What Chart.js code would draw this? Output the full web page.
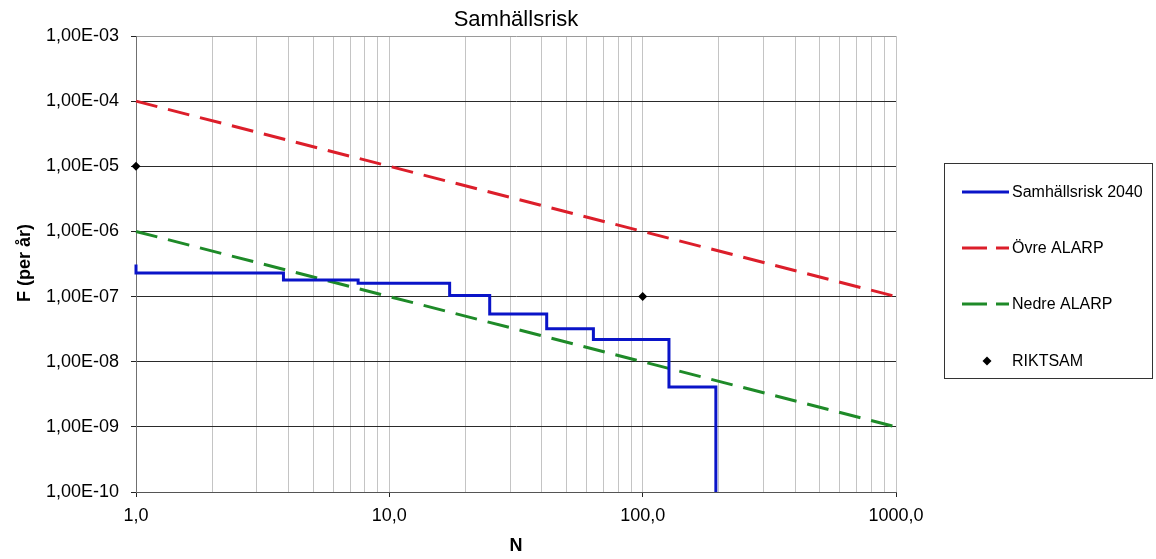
<!DOCTYPE html>
<html>
<head>
<meta charset="utf-8">
<script src="https://cdn.jsdelivr.net/npm/chart.js@4/dist/chart.umd.min.js"></script>
<style>
  html, body { margin: 0; padding: 0; background: #ffffff; }
  #wrap { width: 1156px; height: 559px; position: relative; }
</style>
</head>
<body>
<div id="wrap"><canvas id="c" width="1156" height="559"></canvas></div>
<script>
// ---- Data ----
const chartTitle = 'Samhällsrisk';
const xAxisTitle = 'N';
const yAxisTitle = 'F (per år)';

const riskLabel = 'Samhällsrisk 2040';
const riskN = [1, 1, 3.82, 7.53, 17.3, 24.9, 41.8, 63.9, 127, 194.5];
const riskF = [3.1e-7, 2.3e-7, 1.8e-7, 1.6e-7, 1.04e-7, 5.4e-8, 3.2e-8, 2.2e-8, 4.1e-9, 1e-10];

const upperLabel = 'Övre ALARP';
const upperN = [1, 1000];
const upperF = [1e-4, 1e-7];

const lowerLabel = 'Nedre ALARP';
const lowerN = [1, 1000];
const lowerF = [1e-6, 1e-9];

const riktLabel = 'RIKTSAM';
const riktN = [1, 100];
const riktF = [1e-5, 1e-7];

const xTicks = [1, 10, 100, 1000];
const xTickLabels = ['1,0', '10,0', '100,0', '1000,0'];
const yTicks = [1e-10, 1e-9, 1e-8, 1e-7, 1e-6, 1e-5, 1e-4, 1e-3];
const yTickLabels = ['1,00E-10', '1,00E-09', '1,00E-08', '1,00E-07', '1,00E-06', '1,00E-05', '1,00E-04', '1,00E-03'];

// ---- Helpers ----
const pts = (xs, ys) => xs.map((x, i) => ({ x: x, y: ys[i] }));
const FONT = '"Liberation Sans", Arial, sans-serif';
const isMajorX = v => xTicks.some(t => Math.abs(t - v) / t < 1e-9);

const BLUE = '#0a14c8';
const RED = '#dc1e2a';
const GREEN = '#1e8a28';
const DASH = [22, 11];

// minor grid positions for log x axis (1..9 per decade)
function xGridValues() {
  const out = [];
  for (let d = 1; d < 1000; d *= 10) {
    for (let m = 1; m < 10; m++) out.push(m * d);
  }
  out.push(1000);
  return out;
}

const overlayPlugin = {
  id: 'overlay',
  afterDraw(chart) {
    const ctx = chart.ctx;
    const ca = chart.chartArea;
    ctx.save();
    // Title
    ctx.fillStyle = '#000';
    ctx.font = '22px ' + FONT;
    ctx.textAlign = 'center';
    ctx.textBaseline = 'middle';
    ctx.fillText(chartTitle, (ca.left + ca.right) / 2, 20);
    // X axis title
    ctx.font = 'bold 18px ' + FONT;
    ctx.fillText(xAxisTitle, (ca.left + ca.right) / 2, 546);
    // Y axis title
    ctx.save();
    ctx.translate(25, 263);
    ctx.rotate(-Math.PI / 2);
    ctx.fillText(yAxisTitle, 0, 0);
    ctx.restore();

    // Legend box
    const bx = 944.5, by = 163.5, bw = 208, bh = 215;
    ctx.strokeStyle = '#333';
    ctx.lineWidth = 1;
    ctx.strokeRect(bx, by, bw, bh);

    const entries = [
      { label: riskLabel, color: BLUE, dash: [], y: 192 },
      { label: upperLabel, color: RED, dash: [25, 9], y: 248 },
      { label: lowerLabel, color: GREEN, dash: [25, 9], y: 304 },
      { label: riktLabel, point: true, y: 361 }
    ];
    ctx.font = '16px ' + FONT;
    ctx.textAlign = 'left';
    ctx.textBaseline = 'middle';
    entries.forEach(e => {
      if (e.point) {
        ctx.fillStyle = '#000';
        ctx.beginPath();
        const cx = 987, cy = e.y, r = 4.5;
        ctx.moveTo(cx, cy - r);
        ctx.lineTo(cx + r, cy);
        ctx.lineTo(cx, cy + r);
        ctx.lineTo(cx - r, cy);
        ctx.closePath();
        ctx.fill();
      } else {
        ctx.strokeStyle = e.color;
        ctx.lineWidth = 3;
        ctx.setLineDash(e.dash);
        ctx.beginPath();
        ctx.moveTo(962, e.y);
        ctx.lineTo(1009, e.y);
        ctx.stroke();
        ctx.setLineDash([]);
      }
      ctx.fillStyle = '#000';
      ctx.fillText(e.label, 1012, e.y + 1);
    });
    ctx.restore();
  }
};

new Chart(document.getElementById('c'), {
  type: 'scatter',
  data: {
    datasets: [
      {
        label: riskLabel,
        data: pts(riskN, riskF),
        showLine: true,
        stepped: 'before',
        borderColor: BLUE,
        borderWidth: 3,
        pointRadius: 0,
        fill: false
      },
      {
        label: upperLabel,
        data: pts(upperN, upperF),
        showLine: true,
        borderColor: RED,
        borderWidth: 3,
        borderDash: DASH,
        pointRadius: 0,
        fill: false
      },
      {
        label: lowerLabel,
        data: pts(lowerN, lowerF),
        showLine: true,
        borderColor: GREEN,
        borderWidth: 3,
        borderDash: DASH,
        pointRadius: 0,
        fill: false
      },
      {
        label: riktLabel,
        data: pts(riktN, riktF),
        showLine: false,
        pointStyle: 'rectRot',
        pointRadius: 4.5,
        backgroundColor: '#000',
        borderColor: '#000',
        borderWidth: 0
      }
    ]
  },
  options: {
    responsive: false,
    animation: false,
    devicePixelRatio: 1,
    clip: false,
    layout: { padding: { top: 36, right: 260, left: 0, bottom: 0 } },
    plugins: {
      legend: { display: false },
      title: { display: false },
      tooltip: { enabled: false }
    },
    scales: {
      x: {
        type: 'logarithmic',
        min: 1,
        max: 1000,
        afterFit(scale) { scale.height = 67; },
        afterBuildTicks(axis) {
          axis.ticks = xGridValues().map(v => ({ value: v, major: isMajorX(v) }));
        },
        ticks: {
          autoSkip: false,
          maxRotation: 0,
          padding: 8,
          color: '#000',
          font: { family: FONT, size: 18 },
          callback(value) {
            const i = xTicks.findIndex(t => Math.abs(t - value) / t < 1e-9);
            return i >= 0 ? xTickLabels[i] : '';
          }
        },
        grid: {
          color: '#c4c4c4',
          lineWidth: 1,
          tickLength: 5,
          tickColor: ctx => (ctx.tick && isMajorX(ctx.tick.value)) ? '#222' : 'rgba(0,0,0,0)'
        },
        border: { display: true, color: '#555', width: 1 }
      },
      y: {
        type: 'logarithmic',
        min: 1e-10,
        max: 1e-3,
        afterFit(scale) { scale.width = 136; },
        afterBuildTicks(axis) {
          axis.ticks = yTicks.map(v => ({ value: v, major: true }));
        },
        ticks: {
          autoSkip: false,
          padding: 12,
          color: '#000',
          font: { family: FONT, size: 18 },
          callback(value) {
            const i = yTicks.findIndex(t => Math.abs(t - value) / t < 1e-6);
            return i >= 0 ? yTickLabels[i] : '';
          }
        },
        grid: {
          color: ctx => (ctx.tick && Math.abs(ctx.tick.value - 1e-3) / 1e-3 < 1e-6) ? '#9a9a9a' : '#2a2a2a',
          lineWidth: 1,
          tickLength: 5,
          tickColor: '#222'
        },
        border: { display: true, color: '#707070', width: 1 }
      }
    }
  },
  plugins: [overlayPlugin]
});
</script>
</body>
</html>
